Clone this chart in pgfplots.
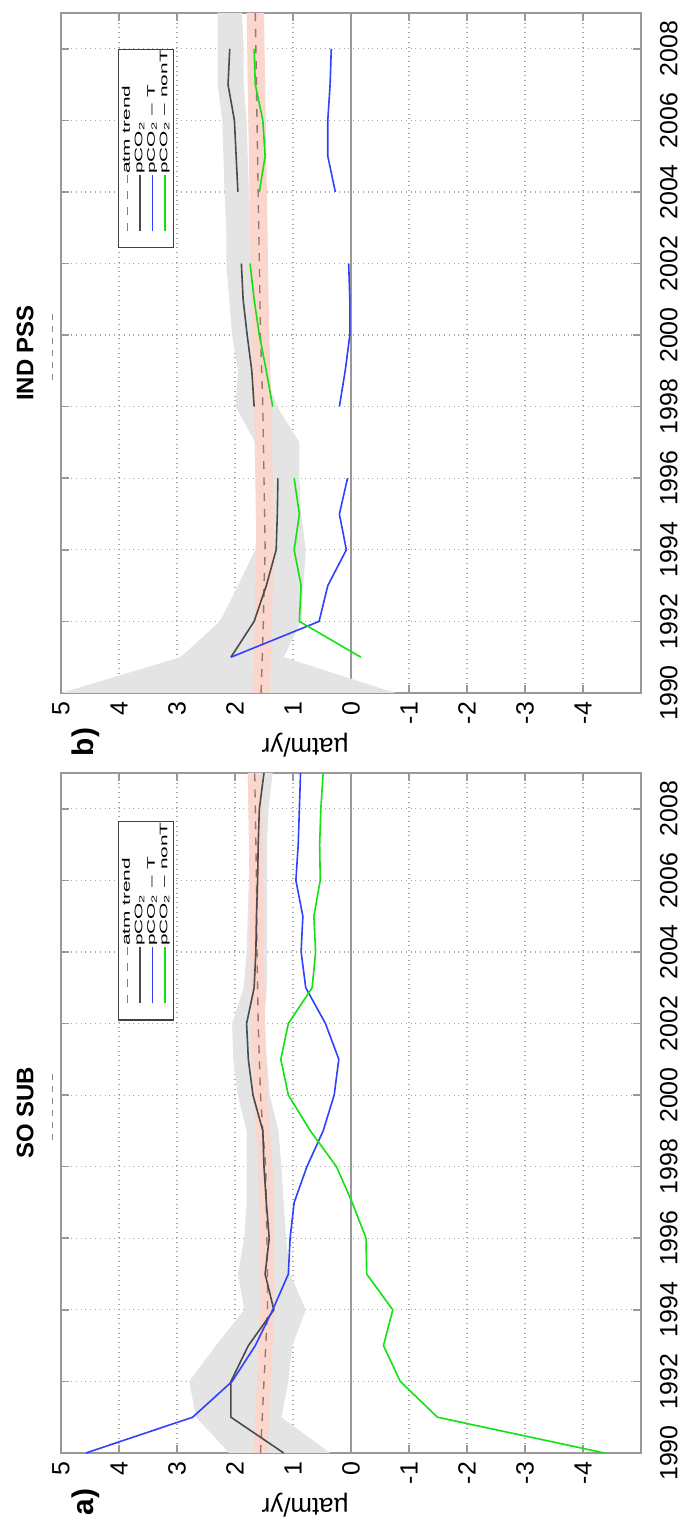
\documentclass[border=0pt]{standalone}
\usepackage{fontspec}
\setmainfont{Liberation Sans}
\usepackage{graphicx}
\usepackage{pgfplots}
\pgfplotsset{compat=1.18}
\usepackage{pgfplotstable}
\usepgfplotslibrary{fillbetween}

\definecolor{bandgray}{RGB}{228,228,228}
\definecolor{bandpink}{RGB}{250,214,204}
\definecolor{atmline}{RGB}{150,118,118}
\definecolor{pcoline}{RGB}{75,75,75}
\definecolor{tline}{RGB}{45,65,255}
\definecolor{ntline}{RGB}{20,225,20}

% yr pco2 up lo T nonT atm alo ahi
\pgfplotstableread{
yr   pco  up   lo    T     nonT  atm  alo  ahi
1990 1.16 2.10 0.36  4.57  -4.37 1.56 1.44 1.68
1991 2.07 2.67 1.20  2.73  -1.49 1.53 1.41 1.65
1992 2.07 2.79 1.08  2.05  -0.85 1.50 1.38 1.62
1993 1.77 2.33 1.01  1.65  -0.56 1.47 1.35 1.59
1994 1.33 1.84 0.78  1.35  -0.72 1.44 1.32 1.56
1995 1.48 1.95 1.05  1.08  -0.27 1.44 1.32 1.56
1996 1.41 1.84 1.12  1.05  -0.26 1.45 1.33 1.57
1997 1.46 1.80 1.16  0.98  -0.02 1.46 1.34 1.58
1998 1.50 1.80 1.20  0.76  0.25  1.47 1.35 1.59
1999 1.52 1.80 1.25  0.48  0.70  1.52 1.40 1.64
2000 1.69 1.95 1.40  0.29  1.08  1.56 1.44 1.68
2001 1.77 2.03 1.45  0.21  1.21  1.58 1.46 1.70
2002 1.80 2.05 1.50  0.44  1.08  1.60 1.48 1.72
2003 1.67 1.85 1.45  0.78  0.67  1.61 1.49 1.73
2004 1.64 1.80 1.45  0.86  0.61  1.62 1.50 1.74
2005 1.63 1.78 1.45  0.83  0.64  1.62 1.50 1.74
2006 1.61 1.76 1.45  0.95  0.53  1.63 1.51 1.75
2007 1.60 1.75 1.45  0.91  0.54  1.64 1.52 1.76
2008 1.58 1.73 1.42  0.89  0.52  1.65 1.53 1.77
2009 1.50 1.70 1.35  0.87  0.48  1.66 1.54 1.78
}\sosub

\pgfplotstableread{
yr   pco  up   lo    T     nonT  atm  alo  ahi
1990 nan  5.00 -0.77 nan   nan   1.55 1.40 1.70
1991 2.07 2.94 1.16  2.07  -0.17 1.53 1.38 1.68
1992 1.67 2.26 0.86  0.55  0.89  1.51 1.36 1.66
1993 1.46 1.95 0.82  0.40  0.86  1.50 1.35 1.65
1994 1.29 1.65 0.78  0.08  0.98  1.48 1.33 1.63
1995 1.27 1.61 0.86  0.20  0.89  1.49 1.34 1.64
1996 1.26 1.58 0.89  0.06  0.98  1.50 1.35 1.65
1997 nan  1.65 0.89  nan   nan   1.51 1.36 1.66
1998 1.67 1.99 1.27  0.20  1.35  1.52 1.37 1.67
1999 1.71 1.95 1.50  0.10  1.46  1.54 1.39 1.69
2000 1.79 2.05 1.60  0.02  1.58  1.56 1.41 1.71
2001 1.86 2.10 1.65  0.02  1.67  1.57 1.42 1.72
2002 1.89 2.15 1.70  0.04  1.74  1.58 1.43 1.73
2003 nan  2.15 1.72  nan   nan   1.59 1.44 1.74
2004 1.95 2.18 1.76  0.27  1.58  1.60 1.45 1.75
2005 1.98 2.20 1.78  0.40  1.48  1.61 1.46 1.76
2006 2.01 2.22 1.80  0.40  1.52  1.62 1.47 1.77
2007 2.12 2.30 1.85  0.36  1.65  1.63 1.48 1.78
2008 2.09 2.30 1.85  0.34  1.67  1.64 1.49 1.79
2009 nan  2.30 1.88  nan   nan   1.65 1.50 1.80
}\indpss

\pgfplotsset{
  panel/.style={
    scale only axis, width=340bp, height=290bp, anchor=south west,
    xmin=1990, xmax=2009, ymin=-5, ymax=5,
    xtick={1990,1992,...,2008}, ytick={-4,...,5},
    tick align=inside, tick pos=both, major tick length=4bp,
    axis line style={draw=black!40, line width=1bp},
    tick style={draw=black!40, line width=0.8bp},
    grid=major, grid style={dotted, black!35, line width=0.6bp},
    extra y ticks={0}, extra y tick labels={},
    extra y tick style={grid=major, major grid style={solid, black!40, line width=0.7bp}, tick style={draw=none}},
    tick label style={font=\fontsize{12.5}{13}\selectfont},
    /pgf/number format/assume math mode=true,
    xticklabel style={/pgf/number format/1000 sep={}, yshift=-6bp},
    yticklabel style={xshift=-1bp},
    unbounded coords=jump, clip=false,
    legend cell align=left,
    legend style={anchor=north east, draw=black!75, line width=0.6bp,
      font=\fontsize{5.5}{6}\selectfont, inner xsep=0bp, inner ysep=1.5bp,
      row sep=0.3bp, nodes={inner sep=0.3bp}},
    legend image code/.code={\path (0bp,0bp); \draw[##1] (8bp,0bp) -- (36bp,0bp);},
  },
  atm/.style={atmline, line width=0.7bp, dash pattern=on 4bp off 4bp},
  pco/.style={pcoline, line width=0.8bp},
  tt/.style={tline, line width=0.8bp},
  nt/.style={ntline, line width=0.8bp},
}

\newcommand{\lgt}[1]{\scalebox{1.9}[1]{#1}}

\begin{document}
\rotatebox{90}{%
\begin{tikzpicture}
  \begin{axis}[panel, at={(34.5bp,23.5bp)},
    legend style={at={(axis description cs:0.929,0.902)}},
    after end axis/.code={
      \node[font=\bfseries\fontsize{12}{13}\selectfont] at (axis description cs:0.5,1.062) {SO SUB};
      \draw[black!45, dash pattern=on 3bp off 3bp, line width=0.6bp] (axis description cs:0.46,1.014) -- (axis description cs:0.56,1.014);
      \node[rotate=90, font=\fontsize{13}{14}\selectfont] at (axis description cs:-0.0765,0.579) {µatm/yr};
      \node[font=\bfseries\fontsize{15}{16}\selectfont] at (axis description cs:-0.072,0.957) {a)};
    }]
    \addplot[name path=up, draw=none, forget plot] table[x=yr, y=up] {\sosub};
    \addplot[name path=lo, draw=none, forget plot] table[x=yr, y=lo] {\sosub};
    \addplot[bandgray, forget plot] fill between[of=up and lo];
    \addplot[name path=ahi, draw=none, forget plot] table[x=yr, y=ahi] {\sosub};
    \addplot[name path=alo, draw=none, forget plot] table[x=yr, y=alo] {\sosub};
    \addplot[bandpink, forget plot] fill between[of=ahi and alo];
    \addplot[atm] table[x=yr, y=atm] {\sosub};
    \addplot[pco] table[x=yr, y=pco] {\sosub};
    \addplot[tt] table[x=yr, y=T] {\sosub};
    \addplot[nt] table[x=yr, y=nonT] {\sosub};
    \legend{\lgt{atm trend}, \lgt{pCO\textsubscript{2}}, \lgt{pCO\textsubscript{2} – T}, \lgt{pCO\textsubscript{2} – nonT}\hspace{40bp}}
  \end{axis}
  \begin{axis}[panel, at={(414.5bp,23.5bp)},
    legend style={at={(axis description cs:0.947,0.902)}},
    after end axis/.code={
      \node[font=\bfseries\fontsize{12}{13}\selectfont] at (axis description cs:0.5,1.062) {IND PSS};
      \draw[black!45, dash pattern=on 3bp off 3bp, line width=0.6bp] (axis description cs:0.46,1.014) -- (axis description cs:0.56,1.014);
      \node[rotate=90, font=\fontsize{13}{14}\selectfont] at (axis description cs:-0.0765,0.579) {µatm/yr};
      \node[font=\bfseries\fontsize{15}{16}\selectfont] at (axis description cs:-0.072,0.957) {b)};
    }]
    \addplot[name path=up, draw=none, forget plot] table[x=yr, y=up] {\indpss};
    \addplot[name path=lo, draw=none, forget plot] table[x=yr, y=lo] {\indpss};
    \addplot[bandgray, forget plot] fill between[of=up and lo];
    \addplot[name path=ahi, draw=none, forget plot] table[x=yr, y=ahi] {\indpss};
    \addplot[name path=alo, draw=none, forget plot] table[x=yr, y=alo] {\indpss};
    \addplot[bandpink, forget plot] fill between[of=ahi and alo];
    \addplot[atm] table[x=yr, y=atm] {\indpss};
    \addplot[pco] table[x=yr, y=pco] {\indpss};
    \addplot[tt] table[x=yr, y=T] {\indpss};
    \addplot[nt] table[x=yr, y=nonT] {\indpss};
    \legend{\lgt{atm trend}, \lgt{pCO\textsubscript{2}}, \lgt{pCO\textsubscript{2} – T}, \lgt{pCO\textsubscript{2} – nonT}\hspace{40bp}}
  \end{axis}
  \pgfresetboundingbox
  \path (0bp,0bp) rectangle (761bp,344bp);
\end{tikzpicture}%
}
\end{document}
